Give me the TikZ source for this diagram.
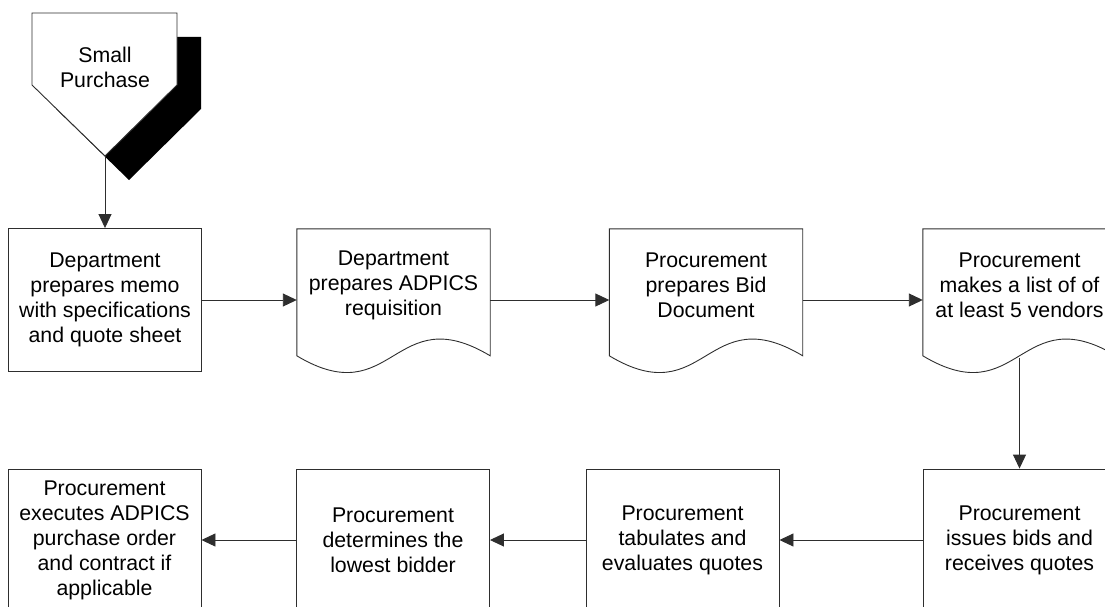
\documentclass[tikz,border=0pt]{standalone}
\usepackage{fontspec}
\setmainfont{Liberation Sans}
\usetikzlibrary{arrows.meta,calc}
\definecolor{lc}{gray}{0.18}
\tikzset{
  txt/.style={align=center, inner sep=0pt, text=black, font=\fontsize{21.3pt}{25pt}\selectfont},
  box/.style={txt, draw=lc, line width=0.9pt, minimum width=193pt, minimum height=143pt},
  doctext/.style={txt, minimum width=193pt, minimum height=112pt},
  docline/.style={draw=lc, line width=0.9pt},
  conn/.style={draw=lc, line width=0.9pt, -{Triangle[length=14pt,width=13pt]}},
}
\newcommand\docoutline[1]{%
  \path[docline] (#1.north west) -- (#1.north east) -- ($(#1.north east)+(0,127)$)
    .. controls ($(#1.north)+(0,69)$) and ($(#1.north)+(0,185)$) ..
    ($(#1.north west)+(0,127)$) -- cycle;}
\begin{document}
\begin{tikzpicture}[x=1pt,y=-1pt]
\useasboundingbox (0,0) rectangle (1105,607);
\clip (0,0) rectangle (1105,607);
% start pentagon with shadow
\fill[black] (56,37) -- (201,37) -- (201,109) -- (129,180) -- (56,109) -- cycle;
\draw[docline, fill=white] (32,13) -- (177,13) -- (177,85) -- (105,156) -- (32,85) -- cycle;
\node[txt] (sp) at (105,67) {Small\\Purchase};
\coordinate (sptip) at (105,156);
% row 1
\node[box] (b1) at (105,300) {Department\\prepares memo\\with specifications\\and quote sheet};
\node[doctext] (d2) at (393.5,285) {Department\\prepares ADPICS\\requisition};
\node[doctext] (d3) at (706,285) {Procurement\\prepares Bid\\Document};
\node[doctext] (d4) at (1019.5,285) {Procurement\\makes a list of of\\at least 5 vendors};
\docoutline{d2}
\docoutline{d3}
\docoutline{d4}
\coordinate (d4b) at ($(d4.north)+(0,129)$);
% row 2
\node[box, minimum height=142pt] (r4) at (1019.5,540) {Procurement\\issues bids and\\receives quotes};
\node[box, minimum height=142pt] (r3) at (682.5,540) {Procurement\\tabulates and\\evaluates quotes};
\node[box, minimum height=142pt] (r2) at (393,540) {Procurement\\determines the\\lowest bidder};
\node[box, minimum height=142pt] (r1) at (104.5,540) {Procurement\\executes ADPICS\\purchase order\\and contract if\\applicable};
% connectors
\draw[conn] (sptip) -- (b1.north);
\draw[conn] (b1.east) -- (b1.east -| d2.west);
\draw[conn] (d2.east |- b1.east) -- (d3.west |- b1.east);
\draw[conn] (d3.east |- b1.east) -- (d4.west |- b1.east);
\draw[conn] (d4b) -- (r4.north);
\draw[conn] (r4.west) -- (r3.east);
\draw[conn] (r3.west) -- (r2.east);
\draw[conn] (r2.west) -- (r1.east);
\end{tikzpicture}
\end{document}
